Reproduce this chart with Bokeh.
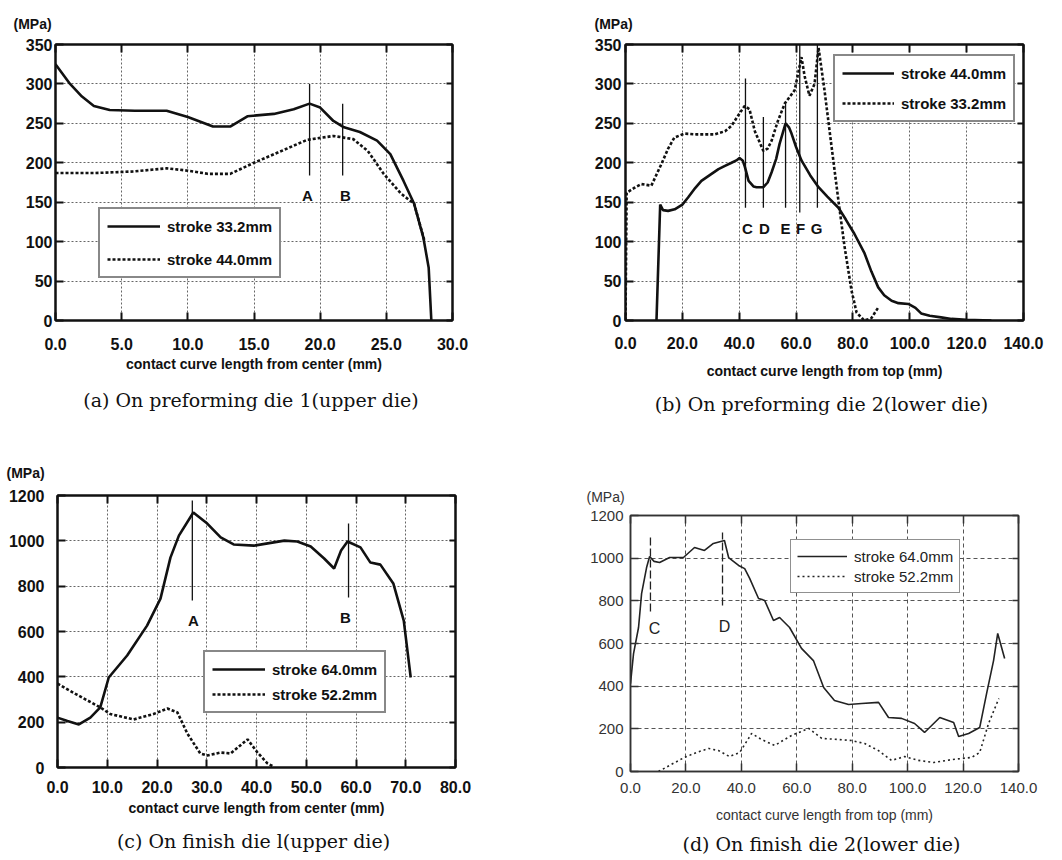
from bokeh.plotting import figure
from bokeh.models import (Range1d, LinearAxis, SingleIntervalTicker, PrintfTickFormatter, Legend,
                          LegendItem, Title, CustomJSTickFormatter)
from bokeh.layouts import row, column
from bokeh.embed import file_html
from bokeh.resources import INLINE
from bokeh.core.properties import value

# ---------------- data ----------------
# (a) preforming die 1 (upper die)
a_s332_x = [0, 1.1, 2.0, 2.9, 4.1, 6, 8.4, 10, 11.9, 13.2, 14.5, 16.5, 18, 19.2, 20, 21, 21.8, 23, 24.3, 25.3, 26.3, 27.1, 27.8, 28.2, 28.4]
a_s332_y = [325, 300, 284, 272, 267, 266, 266, 258, 246, 246, 259, 262, 268, 275, 270, 253, 245, 239, 228, 211, 177, 148, 105, 67, 0]
a_s440_x = [0, 3, 5.9, 8.4, 10, 11.5, 13.2, 15, 16.8, 19, 21, 22.5, 23.6, 24.8, 26.1, 27.1, 27.9]
a_s440_y = [187, 187, 189, 193, 190, 186, 186, 200, 213, 229, 234, 230, 215, 186, 161, 148, 100]
a_mark_lbl = ["A", "B"]
a_mark_x = [19.2, 21.7]
a_mark_y0 = [184, 184]
a_mark_y1 = [300, 275]

# (b) preforming die 2 (lower die)
b_s440_x = [10.9, 12.2, 13.2, 15, 17.3, 20, 22, 24.5, 26.7, 29.5, 32.7, 35, 37.3, 39, 40.1, 41.2, 41.9, 43.3, 45, 46.1, 48.5, 50, 51.4, 53, 54.2, 56.3, 57.5, 58.4, 60, 61.9, 65, 67.9, 71, 74.9, 77.5, 80.5, 84.1, 86.5, 88.9, 91, 93.6, 96, 99.5, 102, 104, 107, 111, 114.7, 120, 128.7]
b_s440_y = [0, 147, 140, 139, 141, 147, 156, 168, 177, 184, 192, 196, 200, 203, 206, 203, 196, 177, 170, 169, 169, 175, 188, 205, 224, 250, 245, 237, 220, 203, 184, 169, 157, 143, 128, 110, 85, 62, 42, 32, 25, 22, 21, 16, 9, 6, 4, 2, 1, 0]
b_s332_x = [0, 0.4, 3, 5.6, 9.1, 12.7, 15, 17.2, 20.7, 25, 31.3, 35, 37.3, 40, 41.9, 43.6, 45.5, 48.5, 50, 51.4, 53.5, 56, 59.5, 61.9, 63, 64.7, 66.5, 67.9, 70, 72.5, 74.9, 77, 79.5, 81.3, 84, 86.5, 89]
b_s332_y = [0, 162, 168, 173, 171, 199, 218, 232, 237, 236, 236, 240, 247, 262, 272, 268, 240, 215, 218, 228, 252, 275, 292, 334, 310, 285, 300, 346, 292, 220, 152, 95, 38, 10, 0, 3, 17]
b_mark_lbl = ["C", "D", "E", "F", "G"]
b_mark_x = [42.2, 48.5, 56.3, 61.3, 67.5]
b_mark_y0 = [143, 143, 143, 137, 143]
b_mark_y1 = [307, 258, 275, 350, 350]

# (c) finish die 1 (upper die)
c_s640_x = [0, 2, 4.3, 6.6, 8.6, 10.3, 14, 18, 20.7, 22.7, 24.4, 27.3, 30.1, 32.8, 35.4, 39.5, 45.6, 48.2, 50.9, 53.6, 55.6, 57, 58.3, 60.9, 62.9, 64.9, 67.5, 69.6, 71]
c_s640_y = [220, 205, 190, 220, 265, 397, 494, 626, 745, 926, 1023, 1125, 1076, 1015, 984, 979, 1001, 997, 975, 922, 878, 957, 997, 971, 904, 895, 812, 648, 397]
c_s522_x = [0, 4, 8.6, 10.6, 15.3, 19.3, 22.1, 24.1, 26.1, 28.7, 30.1, 32.8, 34.8, 38.2, 40.2, 42.2, 43.4]
c_s522_y = [370, 320, 265, 236, 212, 236, 260, 243, 150, 62, 53, 66, 62, 124, 66, 18, 4]
c_mark_lbl = ["A", "B"]
c_mark_x = [27.1, 58.5]
c_mark_y0 = [737, 750]
c_mark_y1 = [1178, 1076]

# (d) finish die 2 (lower die)
d_s640_x = [0, 1.1, 2.9, 4, 5.8, 6.9, 8.5, 10.5, 14.1, 19.1, 23.1, 26.7, 29.9, 33.9, 35.4, 39, 41.2, 43, 46.2, 48.4, 51.6, 53.8, 57.4, 61.7, 66, 69.7, 73.6, 78.7, 83.4, 89.5, 93.1, 97.8, 102.5, 106.1, 111.6, 116.6, 118.4, 122, 126, 128.5, 131, 132.5, 135]
d_s640_y = [412, 553, 675, 834, 956, 1008, 985, 980, 1003, 1003, 1050, 1036, 1069, 1083, 1003, 966, 951, 905, 811, 802, 708, 722, 675, 577, 520, 394, 333, 314, 319, 324, 253, 249, 225, 183, 253, 230, 164, 178, 206, 366, 520, 647, 530]
d_s522_x = [10.1, 15, 19.5, 24, 28.2, 31.8, 35.7, 39.4, 43.7, 47.3, 52, 58.1, 64.3, 69, 75, 79.8, 84.5, 89.5, 94.2, 98.9, 103.9, 109.4, 115.9, 123.1, 126, 129.2, 132.9]
d_s522_y = [0, 35, 66, 90, 108, 98, 70, 89, 178, 150, 122, 169, 202, 155, 150, 145, 131, 98, 52, 70, 52, 42, 56, 66, 89, 225, 342]
d_mark_lbl = ["C", "D"]
d_mark_x = [7.2, 33.2]
d_mark_y0 = [750, 778]
d_mark_y1 = [1106, 1120]

FW = 530
SANS = "Liberation Sans"
SERIF = "DejaVu Serif"


def make_panel(fh, frame, xr, yr, xstep, ystep, light, xlabel, tick_std, lab_std, ytick_std):
    L, R, T, B = frame
    p = figure(width=FW, height=fh, output_backend="svg", toolbar_location=None,
               x_range=Range1d(*xr), y_range=Range1d(*yr),
               min_border_left=L, min_border_right=FW - R,
               min_border_top=T, min_border_bottom=fh - B,
               background_fill_color="white", border_fill_color="white")
    col = "#333333" if light else "#111111"
    lw = 1.5 if light else 2
    p.outline_line_color = col
    p.outline_line_width = lw
    xt = SingleIntervalTicker(interval=xstep, num_minor_ticks=0)
    yt = SingleIntervalTicker(interval=ystep, num_minor_ticks=0)
    bx = p.below[0]
    ly = p.left[0]
    bx.ticker = xt
    ly.ticker = yt
    p.xgrid.ticker = xt
    p.ygrid.ticker = yt
    bx.formatter = PrintfTickFormatter(format="%.1f")
    ly.formatter = PrintfTickFormatter(format="%d")
    for ax in (bx, ly):
        ax.axis_line_color = col
        ax.axis_line_width = lw
        ax.major_tick_in = 8
        ax.major_tick_out = 0
        ax.major_tick_line_color = col
        ax.major_tick_line_width = lw
        ax.minor_tick_line_color = None
        ax.major_label_text_font = SANS
        ax.major_label_text_font_size = "15px" if light else "16px"
        ax.major_label_text_font_style = "normal" if light else "bold"
        ax.major_label_text_color = col
    bx.axis_label = xlabel
    bx.axis_label_text_font = SANS
    bx.axis_label_text_font_size = "14px"
    bx.axis_label_text_font_style = "normal" if light else "bold"
    bx.axis_label_text_color = col
    bx.major_label_standoff = tick_std
    bx.axis_label_standoff = lab_std
    ly.major_label_standoff = ytick_std
    for g in (p.xgrid[0], p.ygrid[0]):
        g.grid_line_color = "#555555" if light else "#666666"
        g.grid_line_dash = "4 3" if light else "2 2"
        g.grid_line_width = 1
    blank = CustomJSTickFormatter(code="return ''")
    top = LinearAxis(ticker=xt, formatter=blank, major_tick_in=8, major_tick_out=0,
                     minor_tick_line_color=None, axis_line_width=lw, axis_line_color=col,
                     major_tick_line_width=lw, major_tick_line_color=col, major_label_standoff=0)
    right = LinearAxis(ticker=yt, formatter=blank, major_tick_in=6, major_tick_out=0,
                       minor_tick_line_color=None, axis_line_width=lw, axis_line_color=col,
                       major_tick_line_width=lw, major_tick_line_color=col, major_label_standoff=0)
    p.add_layout(top, "above")
    p.add_layout(right, "right")
    return p


def add_titles(p, frame, mpa_left, caption, cap_center, light, mpa_std, cap_std):
    L, R, T, B = frame
    col = "#333333" if light else "#111111"
    p.add_layout(Title(text="(MPa)", align="left", offset=mpa_left - L, text_font=SANS,
                       text_font_size="14px", text_font_style="normal" if light else "bold",
                       text_color=col, standoff=mpa_std), "above")
    p.add_layout(Title(text=caption, align="center", offset=cap_center - (L + R) / 2.0,
                       text_font=SERIF, text_font_size="19px", text_font_style="normal",
                       text_color="#111111", standoff=cap_std), "below")


def add_lines(p, sx, sy, dx, dy, light):
    col = "#222222" if light else "#111111"
    w = 1.6 if light else 2.6
    r1 = p.line(sx, sy, line_color=col, line_width=w)
    r2 = p.line(dx, dy, line_color=col, line_width=w, line_dash="2 3" if light else "3 2")
    return r1, r2


def add_legend(p, items, loc, padding, spacing, glyph_w, light):
    leg = Legend(items=[LegendItem(label=l, renderers=[r]) for l, r in items],
                 location=loc, padding=padding, spacing=spacing, margin=0,
                 glyph_width=glyph_w, glyph_height=20, label_height=20, label_standoff=7,
                 label_text_font=SANS, label_text_font_size="15px",
                 label_text_font_style="normal" if light else "bold",
                 label_text_color="#222222" if light else "#111111",
                 border_line_color="#222222" if light else "#111111",
                 border_line_width=1.5 if light else 2,
                 background_fill_color="white", background_fill_alpha=1.0)
    p.add_layout(leg)


def add_marks(p, mx, my0, my1, lbl, lx, ly, light, dash=None):
    col = "#222222" if light else "#111111"
    p.segment(x0=mx, y0=my0, x1=mx, y1=my1, line_color=col, line_width=1.3,
              line_dash=dash if dash else "solid")
    p.text(x=lx, y=ly, text=lbl, text_font=value(SANS), text_font_size="16px" if light else "15px",
           text_font_style="normal" if light else "bold", text_align="center",
           text_baseline="middle", text_color=col)


def px2x(frame, xr, px):
    L, R, T, B = frame
    return xr[0] + (px - L) / (R - L) * (xr[1] - xr[0])


def px2y(frame, yr, py):
    L, R, T, B = frame
    return yr[0] + (B - py) / (B - T) * (yr[1] - yr[0])


H_TOP, H_BOT = 428, 432

# ---------------- panel (a) ----------------  (frame in figure pixels)
fa, xa, ya = (55, 452, 44, 320), (0, 30), (0, 350)
pa = make_panel(H_TOP, fa, xa, ya, 5, 50, False, "contact curve length from center (mm)", 17, 3, 3)
ra1, ra2 = add_lines(pa, a_s332_x, a_s332_y, a_s440_x, a_s440_y, False)
add_marks(pa, a_mark_x, a_mark_y0, a_mark_y1, a_mark_lbl,
          [px2x(fa, xa, 307), px2x(fa, xa, 345)], [px2y(fa, ya, 195)] * 2, False)
add_legend(pa, [("stroke 33.2mm", ra1), ("stroke 44.0mm", ra2)], (43, 42), 7, 13, 53, False)
add_titles(pa, fa, 13, "(a)  On preforming die 1(upper die)", 240, False, 25, 25)

# ---------------- panel (b) ----------------  (figure x offset 530)
fb, xb, yb = (95, 493, 44, 320), (0, 140), (0, 350)
pb = make_panel(H_TOP, fb, xb, yb, 20, 50, False, "contact curve length from top (mm)", 16, 11, 4)
rb1, rb2 = add_lines(pb, b_s440_x, b_s440_y, b_s332_x, b_s332_y, False)
add_marks(pb, b_mark_x, b_mark_y0, b_mark_y1, b_mark_lbl,
          [px2x(fb, xb, v - 530) for v in (747, 764, 785, 800, 816)], [px2y(fb, yb, 228)] * 5, False)
add_legend(pb, [("stroke 44.0mm", rb1), ("stroke 33.2mm", rb2)], (208, 198), 7, 10, 52, False)
add_titles(pb, fb, 594 - 530, "(b)  On preforming die 2(lower die)", 810 - 530, False, 25, 18)

# ---------------- panel (c) ----------------  (figure y offset 428)
OY = H_TOP
fc, xc, yc = (57, 455, 495 - OY, 767 - OY), (0, 80), (0, 1200)
pc = make_panel(H_BOT, fc, xc, yc, 10, 200, False, "contact curve length from center (mm)", 13, 4, 13)
rc1, rc2 = add_lines(pc, c_s640_x, c_s640_y, c_s522_x, c_s522_y, False)
add_marks(pc, c_mark_x, c_mark_y0, c_mark_y1, c_mark_lbl,
          [px2x(fc, xc, 193), px2x(fc, xc, 345)],
          [px2y(fc, yc, 620 - OY), px2y(fc, yc, 617 - OY)], False)
add_legend(pc, [("stroke 64.0mm", rc1), ("stroke 52.2mm", rc2)], (146, 54), 7, 5, 53, False)
add_titles(pc, fc, 6, "(c)  On finish die l(upper die)", 232, False, 30, 18)

# ---------------- panel (d) ----------------  (figure offset 530, 428)
fd, xd, yd = (100, 488, 515 - OY, 771 - OY), (0, 140), (0, 1200)
pd_ = make_panel(H_BOT, fd, xd, yd, 20, 200, True, "contact curve length from top (mm)", 11, 11, 7)
rd1, rd2 = add_lines(pd_, d_s640_x, d_s640_y, d_s522_x, d_s522_y, True)
add_marks(pd_, d_mark_x, d_mark_y0, d_mark_y1, d_mark_lbl,
          [px2x(fd, xd, 654 - 530), px2x(fd, xd, 724 - 530)],
          [px2y(fd, yd, 628 - OY), px2y(fd, yd, 626 - OY)], True, dash="8 3")
add_legend(pd_, [("stroke 64.0mm", rd1), ("stroke 52.2mm", rd2)], (160, 178), 6, 0, 50, True)
add_titles(pd_, fd, 586 - 530, "(d)  On finish die 2(lower die)", 810 - 530, True, 21, 11)

layout = column(row(pa, pb), row(column(pc), column(pd_)))
open("out.html", "w").write(file_html(layout, INLINE))
